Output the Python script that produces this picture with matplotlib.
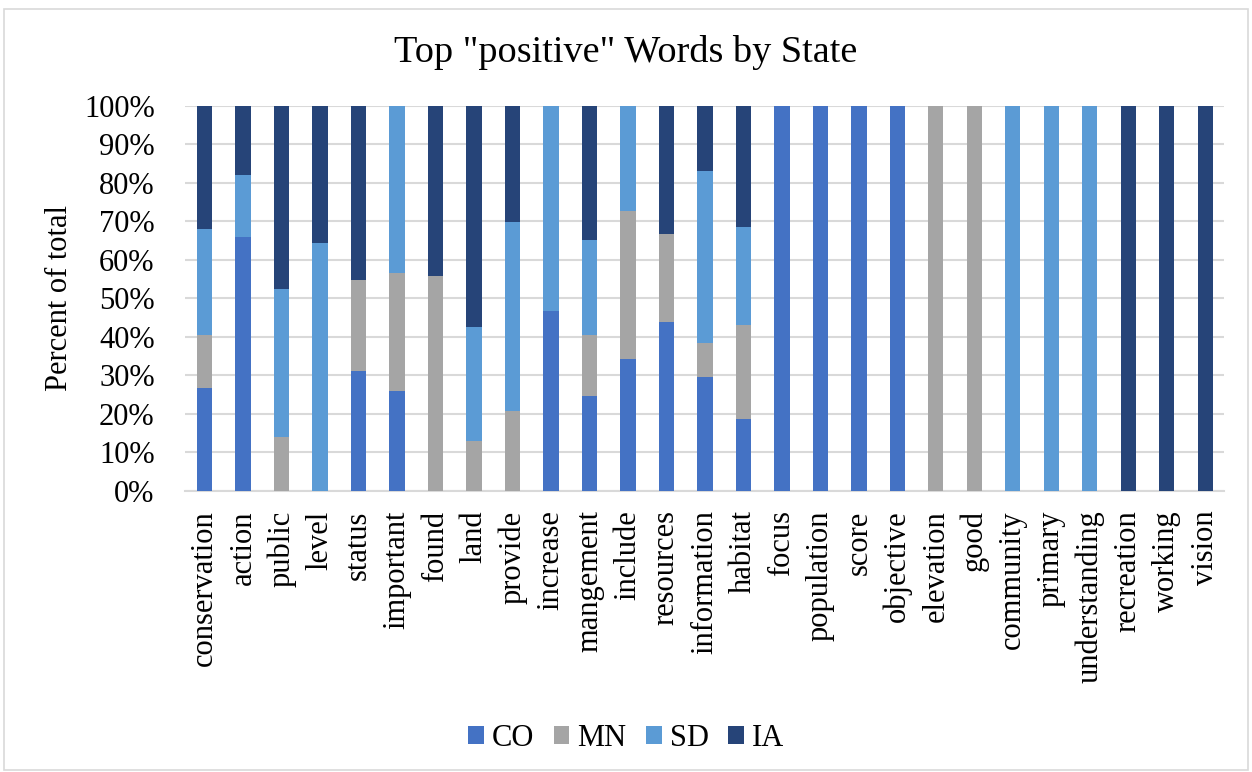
import matplotlib
matplotlib.use("Agg")
import matplotlib.pyplot as plt
import numpy as np
from matplotlib.patches import Rectangle
from matplotlib.ticker import PercentFormatter

words = ["conservation", "action", "public", "level", "status", "important", "found",
         "land", "provide", "increase", "mangement", "include", "resources",
         "information", "habitat", "focus", "population", "score", "objective",
         "elevation", "good", "community", "primary", "understanding",
         "recreation", "working", "vision"]

states = ["CO", "MN", "SD", "IA"]

# Share of each word's occurrences (percent) by state
co = [26.8, 66.0, 0, 0, 31.2, 26.0, 0, 0, 0, 46.8, 24.7, 34.3, 43.9, 29.7, 18.8,
      100, 100, 100, 100, 0, 0, 0, 0, 0, 0, 0, 0]
mn = [13.7, 0, 14.0, 0, 23.7, 30.7, 55.8, 13.1, 20.8, 0, 15.8, 38.4, 22.8, 8.6, 24.3,
      0, 0, 0, 0, 100, 100, 0, 0, 0, 0, 0, 0]
sd = [27.5, 16.0, 38.4, 64.3, 0, 43.3, 0, 29.4, 49.0, 53.2, 24.6, 27.3, 0, 44.7, 25.4,
      0, 0, 0, 0, 0, 0, 100, 100, 100, 0, 0, 0]
ia = [32.0, 18.0, 47.6, 35.7, 45.1, 0, 44.2, 57.5, 30.2, 0, 34.9, 0, 33.3, 17.0, 31.5,
      0, 0, 0, 0, 0, 0, 0, 0, 0, 100, 100, 100]

colors = ["#4472C4", "#A5A5A5", "#5B9BD5", "#264478"]

plt.rcParams["font.family"] = ["Liberation Serif", "DejaVu Serif"]

fig = plt.figure(figsize=(12.52, 7.72), dpi=100)
fig.patches.append(Rectangle((0.003, 0.003), 0.994, 0.985, transform=fig.transFigure,
                             fill=False, edgecolor="#d9d9d9", linewidth=1.2))

ax = fig.add_axes([0.148, 0.364, 0.830, 0.499])

x = np.arange(len(words))
bottom = np.zeros(len(words))
for name, vals, c in zip(states, [co, mn, sd, ia], colors):
    vals = np.array(vals, dtype=float)
    ax.bar(x, vals, 0.4, bottom=bottom, color=c, label=name, zorder=3)
    bottom += vals

ax.set_xlim(-0.5, len(words) - 0.5)
ax.set_ylim(0, 100)
ax.set_yticks(np.arange(0, 101, 10))
ax.yaxis.set_major_formatter(PercentFormatter(decimals=0))
ax.grid(axis="y", color="#d9d9d9", linewidth=1.5, zorder=0)
for s in ["left", "right", "top"]:
    ax.spines[s].set_visible(False)
ax.spines["bottom"].set_color("#d9d9d9")
ax.spines["bottom"].set_linewidth(1.5)
ax.tick_params(axis="both", length=0, labelsize=22)
ax.tick_params(axis="y", pad=22)
ax.tick_params(axis="x", pad=14)
ax.set_xticks(x)
ax.set_xticklabels(words, rotation=90)
ax.set_ylabel("Percent of total", fontsize=22)
ax.yaxis.set_label_coords(-0.107, 0.5)

fig.suptitle('Top "positive" Words by State', fontsize=27.5, y=0.955)

handles, labels = ax.get_legend_handles_labels()
fig.legend(handles, labels, loc="center", bbox_to_anchor=(0.5, 0.044), ncol=4,
           frameon=False, fontsize=22, handlelength=0.52, handleheight=0.52,
           handletextpad=0.25, columnspacing=0.65)

fig.savefig("out.png", dpi=100)
